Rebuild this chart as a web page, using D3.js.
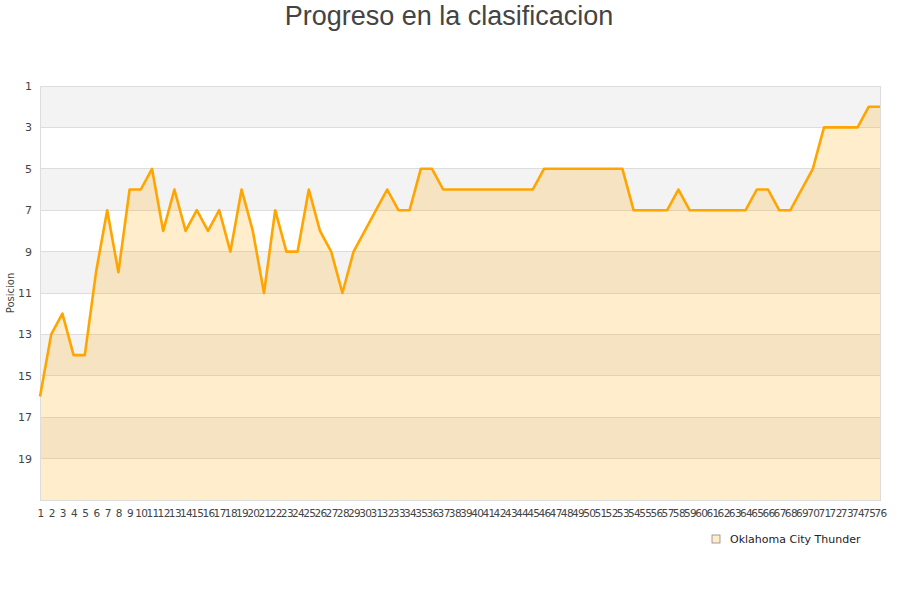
<!DOCTYPE html>
<html><head><meta charset="utf-8">
<script src="https://cdn.jsdelivr.net/npm/d3@7"></script>
<style>body{margin:0;background:#fff}svg{display:block}</style>
</head><body>
<svg id="c" width="900" height="600"></svg>
<script>
const rounds = d3.range(1, 77);
const positions = [16,13,12,14,14,10,7,10,6,6,5,8,6,8,7,8,7,9,6,8,11,7,9,9,6,8,9,11,9,8,7,6,7,7,5,5,6,6,6,6,6,6,6,6,6,5,5,5,5,5,5,5,5,7,7,7,7,6,7,7,7,7,7,7,6,6,7,7,6,5,3,3,3,3,2,2];
const yTicks = [1,3,5,7,9,11,13,15,17,19];
const seriesName = "Oklahoma City Thunder";
const titleText = "Progreso en la clasificacion";
const yLabel = "Posicion";

const svg = d3.select("#c");
const L = 40, R = 880, T = 86, B = 500;
const x = d3.scaleLinear().domain([1, 76]).range([L, R]);
const y = d3.scaleLinear().domain([1, 21]).range([T, B]);

const bands = d3.range(1, 21, 2);
svg.append("g").selectAll("rect").data(bands).join("rect")
  .attr("x", L).attr("width", R - L)
  .attr("y", d => y(d)).attr("height", d => y(d + 2) - y(d))
  .attr("fill", (d, i) => i % 2 === 0 ? "#f3f3f3" : "#ffffff");

svg.append("g").selectAll("line").data(yTicks).join("line")
  .attr("x1", L).attr("x2", R).attr("y1", d => y(d)).attr("y2", d => y(d))
  .attr("stroke", "#dddddd").attr("stroke-width", 1).attr("shape-rendering", "crispEdges");

const data = rounds.map((r, i) => ({r, p: positions[i]}));
svg.append("path").datum(data)
  .attr("d", d3.area().x(d => x(d.r)).y0(y(21)).y1(d => y(d.p)))
  .attr("fill", "orange").attr("fill-opacity", 0.2);

svg.append("rect").attr("x", L).attr("y", T).attr("width", R - L).attr("height", B - T)
  .attr("fill", "none").attr("stroke", "#dddddd").attr("shape-rendering", "crispEdges");

svg.append("path").datum(data)
  .attr("d", d3.line().x(d => x(d.r)).y(d => y(d.p)))
  .attr("fill", "none").attr("stroke", "#ffa500").attr("stroke-width", 2.6)
  .attr("stroke-linejoin", "round");

const yAxis = svg.append("g").attr("transform", `translate(${L},0)`)
  .call(d3.axisLeft(y).tickValues(yTicks).tickSize(0).tickPadding(8));
yAxis.select(".domain").remove();
yAxis.selectAll("text").attr("font-family", "DejaVu Sans, sans-serif").attr("font-size", 11).attr("fill", "#444");

const xAxis = svg.append("g").attr("transform", `translate(0,${B})`)
  .call(d3.axisBottom(x).tickValues(rounds).tickFormat(d3.format("d")).tickSize(0).tickPadding(10));
xAxis.select(".domain").remove();
xAxis.selectAll("text").attr("font-family", "DejaVu Sans, sans-serif").attr("font-size", 10.5).attr("fill", "#444")
  .attr("letter-spacing", "-0.6");

svg.append("text").attr("x", 449).attr("y", 25).attr("text-anchor", "middle")
  .attr("font-family", "Liberation Sans, Arial, sans-serif").attr("font-size", 27).attr("fill", "#444")
  .text(titleText);

svg.append("text").attr("transform", "translate(14,293) rotate(-90)").attr("text-anchor", "middle")
  .attr("font-family", "DejaVu Sans, sans-serif").attr("font-size", 10).attr("fill", "#444")
  .text(yLabel);

const lg = svg.append("g").attr("transform", "translate(712,535)");
lg.append("rect").attr("x", 0).attr("y", 0).attr("width", 8).attr("height", 8)
  .attr("fill", "#feecca").attr("stroke", "#888").attr("stroke-width", 0.8);
lg.append("text").attr("x", 18).attr("y", 8).attr("font-family", "DejaVu Sans, sans-serif")
  .attr("font-size", 11).attr("fill", "#222").text(seriesName);
</script>
</body></html>
